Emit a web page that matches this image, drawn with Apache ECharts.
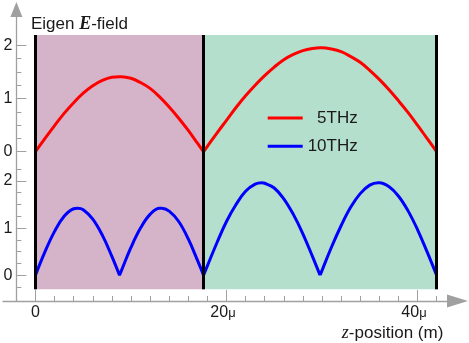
<!DOCTYPE html>
<html><head><meta charset="utf-8">
<script src="https://cdn.jsdelivr.net/npm/echarts@6/dist/echarts.min.js"></script>
<style>html,body{margin:0;padding:0;background:#fff}#c{width:469px;height:343px}</style>
</head><body><div id="c"></div>
<script>
// ---- data ----
const zRed = [0,1,2,3,4,5,6,7,8,8.8,9,10,11,12,13,14,15,16,17,17.6,
  18,19,20,21,22,23,24,25,26,27,28,29,29.8,30,31,32,33,34,35,36,37,38,39,40,41,42];
const field5THz = [0,0.25,0.49,0.72,0.92,1.10,1.24,1.34,1.40,1.41,1.41,1.38,1.30,1.19,1.03,0.84,0.63,0.40,0.15,0,
  0.10,0.35,0.59,0.83,1.05,1.25,1.43,1.59,1.73,1.83,1.90,1.94,1.955,1.955,1.93,1.88,1.79,1.68,1.53,1.36,1.17,0.96,0.74,0.50,0.25,0];
const zBlue = [0,1,2,3,4,4.4,5,6,7,8,8.8,9,10,11,12,13,13.2,14,15,16,17,17.6,
  18,19,20,21,22,23,23.7,24,25,26,27,28,29,29.8,30,31,32,33,34,35,35.9,36,37,38,39,40,41,42];
const field10THz = [0,0.50,0.93,1.25,1.41,1.42,1.39,1.19,0.85,0.40,0,
  0.10,0.59,1.00,1.29,1.42,1.42,1.36,1.14,0.77,0.30,0,
  0.20,0.69,1.14,1.50,1.78,1.93,1.96,1.95,1.85,1.62,1.29,0.88,0.40,0,
  0.10,0.60,1.05,1.44,1.73,1.91,1.96,1.96,1.88,1.68,1.37,0.97,0.50,0];
const layerBounds = [0, 17.6, 42];
const xTickMajor = [0, 20, 40];
const xTickLabels = ['0', '20μ', '40μ'];
const xTickMinor = [-2,0,2,4,6,8,10,12,14,16,18,20,22,24,26,28,30,32,34,36,38,40,42];
const yTickMajor = [0, 1, 2];
const yTickLabels = ['0', '1', '2'];
const yTickMinorTop = [0,0.25,0.5,0.75,1,1.25,1.5,1.75,2];
const yTickMinorBottom = [-0.25,0,0.25,0.5,0.75,1,1.25,1.5,1.75,2,2.25];
const seriesNames = ['5THz', '10THz'];

// ---- layout / style ----
const X_MIN = -3.4, X_MAX = 44.19;
const TOP_MIN = -0.2124, TOP_MAX = 2.673, TOP_BAND = 2.194;
const BOT_MIN = -0.5445, BOT_MAX = 2.379, BOT_BAND = -0.297;
const axisGray = '#a0a0a0';
const layerColors = ['#d5b4ca', '#b5dfcd'];
const ink = '#1a1a1a';
const sans = 'Liberation Sans, Arial, sans-serif';
const serif = 'Liberation Serif, serif';
const font = {fontFamily: sans, fontSize: 17, color: ink};
const tickFont = {fontFamily: sans, fontSize: 16, color: ink};

function buildSegments(zs, vs) {
  const out = [];
  for (let i = 0; i < zs.length; i++) {
    out.push([zs[i], vs[i]]);
    if (vs[i] === 0 && i > 0 && i < zs.length - 1) {
      out.push([zs[i], '-']);
      out.push([zs[i], vs[i]]);
    }
  }
  return out;
}
function bands(yLo, yHi) {
  const d = [];
  for (let i = 0; i < layerBounds.length - 1; i++) {
    d.push([{xAxis: layerBounds[i], yAxis: yLo, itemStyle: {color: layerColors[i], opacity: 1}},
            {xAxis: layerBounds[i + 1], yAxis: yHi}]);
  }
  return d;
}
function walls(yLo, yHi) {
  return layerBounds.map(b => [{coord: [b, yLo]}, {coord: [b, yHi]}]);
}
function xLabel(v) {
  const s = xTickLabels[xTickMajor.indexOf(v)];
  const m = s.match(/^(\d+)(μ?)$/);
  if (!m[2]) return '{n|' + m[1] + '}';
  return '{n|' + m[1] + '}{u|' + m[2] + '}{s|\u2009}';
}
function yAxes(grid, min, max, minor, arrow) {
  return [
    {gridIndex: grid, type: 'value', min, max, position: 'left', offset: -13.4,
     axisLine: {show: true, onZero: false, lineStyle: {color: axisGray, width: 1.3},
                symbol: ['none', arrow ? 'triangle' : 'none'], symbolSize: [12, 15]},
     axisTick: {show: true, inside: true, length: 5, customValues: minor, lineStyle: {color: axisGray}},
     axisLabel: {show: false}, splitLine: {show: false}},
    {gridIndex: grid, type: 'value', min, max, position: 'left', offset: -13.4,
     axisLine: {show: false, onZero: false},
     axisTick: {show: true, inside: true, length: 10, customValues: yTickMajor, lineStyle: {color: axisGray}},
     axisLabel: {show: true, customValues: yTickMajor, margin: 4,
                 formatter: v => yTickLabels[yTickMajor.indexOf(v)], ...tickFont},
     splitLine: {show: false}}
  ];
}

const chart = echarts.init(document.getElementById('c'), null, {renderer: 'canvas'});
chart.setOption({
  animation: false,
  backgroundColor: '#ffffff',
  title: [
    {text: 'Eigen {e|E}-field', left: 31, top: 15.5, padding: 0,
     textStyle: {...font, fontWeight: 'normal', lineHeight: 18,
       rich: {e: {fontFamily: serif, fontStyle: 'italic', fontWeight: 'bold', fontSize: 18, lineHeight: 18, color: ink}}}},
    {text: '{z|z}-position (m)', right: 25.7, top: 324, padding: 0,
     textStyle: {...font, fontWeight: 'normal', lineHeight: 18,
       rich: {z: {fontFamily: serif, fontStyle: 'italic', fontSize: 18, lineHeight: 18, color: ink}}}}
  ],
  legend: {
    orient: 'vertical', left: 267.7, top: 109.5, itemWidth: 35, itemHeight: 3, itemGap: 11.3,
    icon: 'rect', padding: 0, data: seriesNames,
    formatter: n => '{t|' + n + '}',
    textStyle: {...font, rich: {t: {...font, width: 50, align: 'right', lineHeight: 17}}}
  },
  grid: [
    {left: 3, right: 11.5, top: 9.5, height: 153.5},
    {left: 3, right: 11.5, top: 163, height: 138}
  ],
  xAxis: [
    {gridIndex: 0, type: 'value', min: X_MIN, max: X_MAX, show: false},
    {gridIndex: 1, type: 'value', min: X_MIN, max: X_MAX, position: 'bottom',
     axisLine: {show: true, onZero: false, lineStyle: {color: axisGray, width: 1.3},
                symbol: ['none', 'triangle'], symbolSize: [13, 21]},
     axisTick: {show: true, inside: true, length: 5, customValues: xTickMinor, lineStyle: {color: axisGray}},
     axisLabel: {show: false}, splitLine: {show: false}},
    {gridIndex: 1, type: 'value', min: X_MIN, max: X_MAX, position: 'bottom',
     axisLine: {show: false, onZero: false},
     axisTick: {show: true, inside: true, length: 11, customValues: xTickMajor, lineStyle: {color: axisGray}},
     axisLabel: {show: true, customValues: xTickMajor, margin: 4, formatter: xLabel,
                 fontFamily: sans, fontSize: 16, color: ink,
                 rich: {n: {fontFamily: sans, fontSize: 16, color: ink},
                        u: {fontFamily: sans, fontSize: 13, color: ink},
                        s: {fontFamily: sans, fontSize: 16, width: 7}}},
     splitLine: {show: false}}
  ],
  yAxis: [].concat(
    yAxes(0, TOP_MIN, TOP_MAX, yTickMinorTop, true),
    yAxes(1, BOT_MIN, BOT_MAX, yTickMinorBottom, false)
  ),
  series: [
    {type: 'line', name: 'layersTop', xAxisIndex: 0, yAxisIndex: 0, data: [], z: 1, silent: true,
     markArea: {silent: true, data: bands(TOP_MIN, TOP_BAND)},
     markLine: {silent: true, symbol: ['none', 'none'], label: {show: false},
                lineStyle: {color: '#000', width: 3, type: 'solid'}, data: walls(TOP_MIN, TOP_BAND)}},
    {type: 'line', name: 'layersBottom', xAxisIndex: 1, yAxisIndex: 2, data: [], z: 1, silent: true,
     markArea: {silent: true, data: bands(BOT_BAND, BOT_MAX)},
     markLine: {silent: true, symbol: ['none', 'none'], label: {show: false},
                lineStyle: {color: '#000', width: 3, type: 'solid'}, data: walls(BOT_BAND, BOT_MAX)}},
    {type: 'line', name: seriesNames[0], xAxisIndex: 0, yAxisIndex: 0, z: 3,
     data: buildSegments(zRed, field5THz), smooth: 0.4, symbol: 'none', showSymbol: false,
     lineStyle: {color: '#ff0000', width: 3}, itemStyle: {color: '#ff0000'}},
    {type: 'line', name: seriesNames[1], xAxisIndex: 1, yAxisIndex: 2, z: 3,
     data: buildSegments(zBlue, field10THz), smooth: 0.4, symbol: 'none', showSymbol: false,
     lineStyle: {color: '#0000ff', width: 3}, itemStyle: {color: '#0000ff'}}
  ]
});
</script></body></html>
